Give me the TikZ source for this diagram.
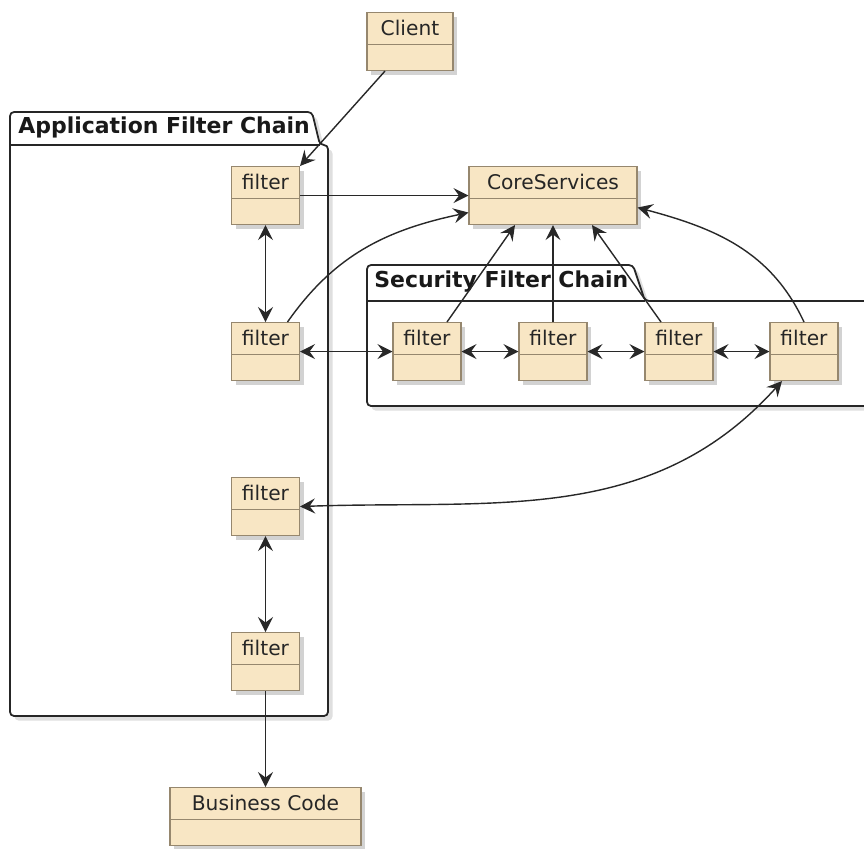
\documentclass[tikz,border=0pt]{standalone}
\usepackage{fontspec}
\setmainfont{DejaVu Sans}
\usetikzlibrary{arrows.meta,shadows}
\definecolor{clsfill}{RGB}{248,230,196}
\definecolor{clsline}{RGB}{150,135,110}
\definecolor{wire}{RGB}{40,40,40}

\begin{document}
\begin{tikzpicture}[
    >={Stealth[length=3mm,width=3mm,inset=1.1mm]},
    cls/.style={
        draw=clsline,
        fill=clsfill,
        line width=0.6pt,
        anchor=north,
        minimum width=1.36cm,
        minimum height=1.16cm,
        inner ysep=0pt,
        text height=13.3pt,
        text depth=19.7pt,
        text=black!85,
        font=\fontsize{11.5}{14}\selectfont,
        drop shadow={shadow xshift=0.08cm, shadow yshift=-0.08cm, opacity=0.35},
        path picture={
            \draw[clsline, line width=0.6pt]
            ([yshift=-0.64cm]path picture bounding box.north west) --
            ([yshift=-0.64cm]path picture bounding box.north east);
        }
    },
    chain/.style={
        draw=black!85,
        fill=white,
        line width=1pt,
        rounded corners=0.08cm,
        drop shadow={shadow xshift=0.09cm, shadow yshift=-0.09cm, opacity=0.25}
    },
    title/.style={anchor=base west, inner sep=0pt, text=black!90,
        font=\bfseries\fontsize{12.5}{15}\selectfont},
    link/.style={draw=wire, line width=0.8pt}
]

    \useasboundingbox (0,0) rectangle (17.28,-16.96);
    \clip (0,0) rectangle (17.28,-16.96);

    % Chains
    \draw[chain] (0.2,-14.32) -- (0.2,-2.24) -- (6.24,-2.24) -- (6.4,-2.9)
        -- (6.56,-2.9) -- (6.56,-14.32) -- cycle;
    \draw[black!85, line width=1pt] (0.2,-2.9) -- (6.4,-2.9);
    \node[title] (appttl) at (0.36,-2.66) {Application Filter Chain};

    \draw[chain] (7.34,-8.12) -- (7.34,-5.3) -- (12.66,-5.3) -- (12.9,-6.02)
        -- (18,-6.02) -- (18,-8.12) -- cycle;
    \draw[black!85, line width=1pt] (7.34,-6.02) -- (12.9,-6.02);
    \node[title] (secttl) at (7.48,-5.74) {Security Filter Chain};

    % Nodes
    \node[cls, minimum width=1.72cm] (client) at (8.2,-0.24) {Client};
    \node[cls, minimum width=3.36cm] (core) at (11.06,-3.32) {CoreServices};

    \node[cls] (af1) at (5.31,-3.32) {filter};
    \node[cls] (af2) at (5.31,-6.44) {filter};
    \node[cls] (af3) at (5.31,-9.54) {filter};
    \node[cls] (af4) at (5.31,-12.64) {filter};

    \node[cls] (sf1) at (8.54,-6.44) {filter};
    \node[cls] (sf2) at (11.06,-6.44) {filter};
    \node[cls] (sf3) at (13.58,-6.44) {filter};
    \node[cls] (sf4) at (16.08,-6.44) {filter};

    \node[cls, minimum width=3.82cm] (business) at (5.31,-15.74) {Business Code};

    % Arrows
    \draw[link, ->] ([xshift=-0.5cm]client.south) -- (af1.north east);
    \draw[link, ->] (af1) -- (core);
    \draw[link, <->] (af1) -- (af2);
    \draw[link, ->] ([xshift=0.44cm]af2.north) to[out=55, in=192] ([yshift=-0.34cm]core.west);
    \draw[link, <->] (af2) -- (sf1);
    \draw[link, <->] (sf1) -- (sf2);
    \draw[link, <->] (sf2) -- (sf3);
    \draw[link, <->] (sf3) -- (sf4);
    \draw[link, ->] ([xshift=0.4cm]sf1.north) -- ([xshift=-0.76cm]core.south);
    \draw[link, ->] (sf2) -- (core);
    \draw[link, ->] ([xshift=-0.36cm]sf3.north) -- ([xshift=0.78cm]core.south);
    \draw[link, ->] (sf4.north) to[out=115, in=-15] ([yshift=-0.24cm]core.east);
    \draw[link, <->] (af3.east) to[out=2, in=228] ([xshift=-0.44cm]sf4.south);
    \draw[link, <->] (af3) -- (af4);
    \draw[link, ->] (af4) -- (business);

\end{tikzpicture}
\end{document}
